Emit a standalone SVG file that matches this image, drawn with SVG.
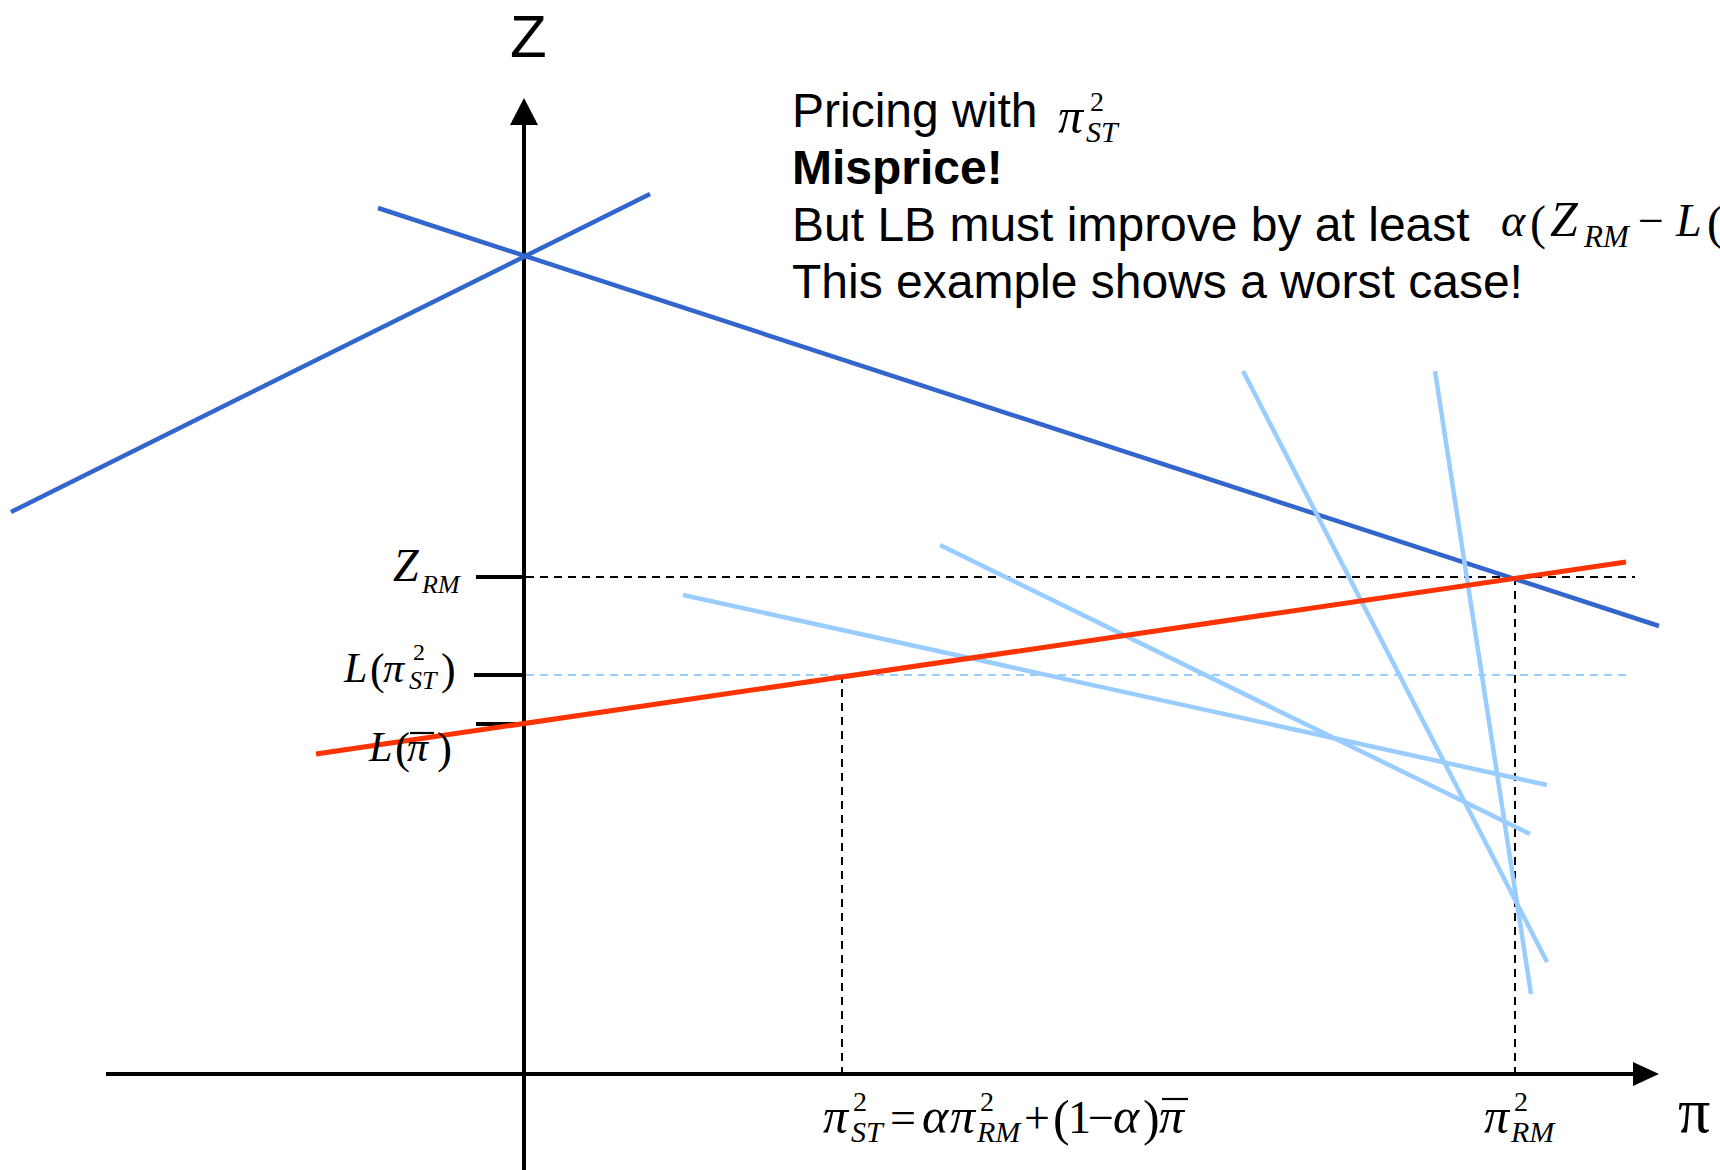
<svg xmlns="http://www.w3.org/2000/svg" width="1720" height="1170" viewBox="0 0 1720 1170">
<style>
.ax{stroke:#000;stroke-width:4;fill:none}
.dk{stroke:#3366CC;stroke-width:4.5;fill:none}
.lt{stroke:#99CCFF;stroke-width:4.5;fill:none}
.rd{stroke:#FF3300;stroke-width:5;fill:none}
.dsh{stroke:#000;stroke-width:2;stroke-dasharray:8 6;fill:none}
.dshl{stroke:#99CCFF;stroke-width:2;stroke-dasharray:8 6;fill:none}
.bar{stroke:#000;stroke-width:2.2}
.tx{font-family:"Liberation Sans",Arial,sans-serif;font-size:48px;fill:#000}
.mt{font-family:"Liberation Serif","Times New Roman",serif;fill:#000}
.i{font-style:italic}
.sub{font-style:italic}
</style>
<rect width="1720" height="1170" fill="#fff"/>
<g id="axes">
<line class="ax" x1="524" y1="124" x2="524" y2="1170"/>
<polygon points="524,98 510,125 538,125" fill="#000"/>
<line class="ax" x1="106" y1="1074" x2="1635" y2="1074"/>
<polygon points="1659,1074 1633,1062 1633,1086" fill="#000"/>
<line class="ax" x1="476" y1="577" x2="524" y2="577"/>
<line class="ax" x1="474" y1="675" x2="524" y2="675"/>
<line class="ax" x1="476" y1="724" x2="524" y2="724"/>
</g>
<g id="guides">
<line class="dsh" x1="526" y1="577" x2="1635" y2="577"/>
<line class="dshl" x1="526" y1="675" x2="1629" y2="675"/>
<line class="dsh" x1="842" y1="675" x2="842" y2="1072"/>
<line class="dsh" x1="1515" y1="577" x2="1515" y2="1072"/>
</g>
<g id="cuts">
<line class="dk" x1="11" y1="512" x2="650" y2="194"/>
<line class="dk" x1="378" y1="208" x2="1659" y2="626"/>
<line class="lt" x1="683" y1="595" x2="1547" y2="785"/>
<line class="lt" x1="940" y1="545" x2="1530" y2="834"/>
<line class="lt" x1="1243" y1="371" x2="1547" y2="962"/>
<line class="lt" x1="1435" y1="371" x2="1531" y2="994"/>
<line class="rd" x1="316" y1="754" x2="1626" y2="562"/>
</g>
<g id="axis-labels">
<text x="510" y="57" style="font-family:'Liberation Sans',Arial,sans-serif;font-size:60px">Z</text>
<text x="1678" y="1132" class="mt" font-size="64">π</text>
</g>
<g id="y-labels">
<text class="mt" font-size="46"><tspan class="i" x="393" y="581">Z</tspan><tspan class="sub" x="422" y="593" font-size="26">RM</tspan></text>
<text class="mt" font-size="42"><tspan class="i" x="344" y="682">L</tspan><tspan x="370" y="684" font-size="44">(</tspan><tspan class="i" x="383" y="682">π</tspan><tspan x="413" y="660" font-size="24">2</tspan><tspan class="sub" x="409" y="689" font-size="26">ST</tspan><tspan x="441" y="684" font-size="44">)</tspan></text>
<text class="mt" font-size="42"><tspan class="i" x="369" y="761">L</tspan><tspan x="395" y="763" font-size="45">(</tspan><tspan class="i" x="407" y="761">π</tspan><tspan x="437" y="763" font-size="45">)</tspan></text>
<line class="bar" x1="410" y1="733" x2="434" y2="733"/>
</g>
<g id="x-labels">
<text class="mt" font-size="50"><tspan class="i" x="823" y="1133">π</tspan><tspan x="853" y="1111" font-size="28">2</tspan><tspan class="sub" x="851" y="1142" font-size="30">ST</tspan><tspan x="890" y="1133" font-size="46">=</tspan><tspan class="i" x="922" y="1133">α</tspan><tspan class="i" x="950" y="1133">π</tspan><tspan x="980" y="1111" font-size="28">2</tspan><tspan class="sub" x="977" y="1142" font-size="30">RM</tspan><tspan x="1024" y="1133" font-size="46">+</tspan><tspan x="1053" y="1135">(</tspan><tspan x="1068" y="1133" font-size="46">1</tspan><tspan x="1088" y="1133" font-size="46">−</tspan><tspan class="i" x="1113" y="1133">α</tspan><tspan x="1143" y="1135">)</tspan><tspan class="i" x="1159" y="1133">π</tspan></text>
<line class="bar" x1="1162" y1="1099" x2="1188" y2="1099"/>
<text class="mt" font-size="50"><tspan class="i" x="1484" y="1133">π</tspan><tspan x="1514" y="1111" font-size="28">2</tspan><tspan class="sub" x="1511" y="1142" font-size="30">RM</tspan></text>
</g>
<g id="caption">
<text x="792" y="127" class="tx">Pricing with</text>
<text class="mt" font-size="50"><tspan class="i" x="1058" y="133">π</tspan><tspan x="1090" y="111" font-size="28">2</tspan><tspan class="sub" x="1086" y="142" font-size="30">ST</tspan></text>
<text x="792" y="184" class="tx" font-weight="bold">Misprice!</text>
<text x="792" y="241" class="tx">But LB must improve by at least</text>
<text class="mt" font-size="46"><tspan class="i" x="1501" y="236">α</tspan><tspan x="1530" y="239" font-size="48">(</tspan><tspan class="i" x="1550" y="236" font-size="50">Z</tspan><tspan class="sub" x="1584" y="247" font-size="31">RM</tspan><tspan x="1638" y="236">−</tspan><tspan class="i" x="1676" y="236">L</tspan><tspan x="1707" y="239" font-size="48">(</tspan></text>
<text x="792" y="298" class="tx">This example shows a worst case!</text>
</g>
</svg>
